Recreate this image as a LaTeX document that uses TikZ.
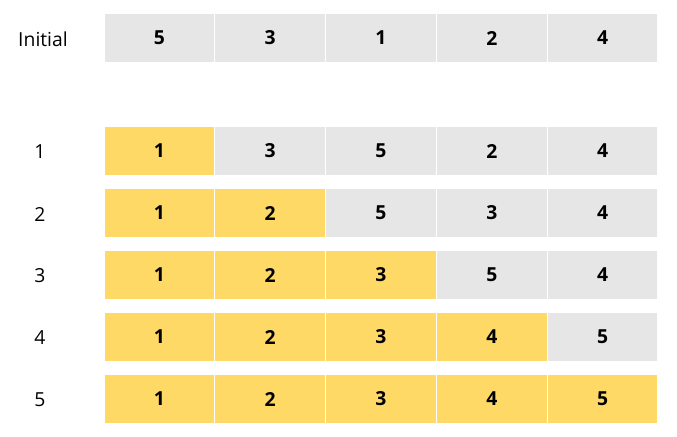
\documentclass[tikz,border=0pt]{standalone}
\usepackage{fontspec}
\setmainfont{Open Sans}
\usepackage{xcolor}
\usetikzlibrary{positioning}
\definecolor{cellgray}{HTML}{E6E6E6}
\definecolor{cellyellow}{HTML}{FFD966}

\begin{document}
\begin{tikzpicture}[x=0.75pt, y=-0.75pt,
  cell/.style={draw=white, line width=0.9pt, inner sep=0pt, minimum width=83.1pt, minimum height=36.6pt, font=\fontsize{14.5}{17}\selectfont\bfseries},
  rowlabel/.style={font=\fontsize{14.5}{17}\selectfont}]
  \useasboundingbox (0,0) rectangle (677,436);

  % initial array
  \node[rowlabel] (lab-init) at (43,39) {Initial};
  \foreach \v [count=\c] in {5,3,1,2,4}
    \node[cell, fill=cellgray] (init-\c) at ({159.4+110.8*(\c-1)},38) {\v};

  % passes
  \foreach \row/\vals in {1/{1,3,5,2,4}, 2/{1,2,5,3,4}, 3/{1,2,3,5,4}, 4/{1,2,3,4,5}, 5/{1,2,3,4,5}} {
    \node[rowlabel] (lab-\row) at (40,{152+62*(\row-1)}) {\row};
    \foreach \v [count=\c] in \vals {
      \ifnum\c>\row \def\cellcol{cellgray}\else\def\cellcol{cellyellow}\fi
      \node[cell, fill=\cellcol] (r\row-\c) at ({159.4+110.8*(\c-1)},{151+62*(\row-1)}) {\v};
    }
  }
\end{tikzpicture}
\end{document}
